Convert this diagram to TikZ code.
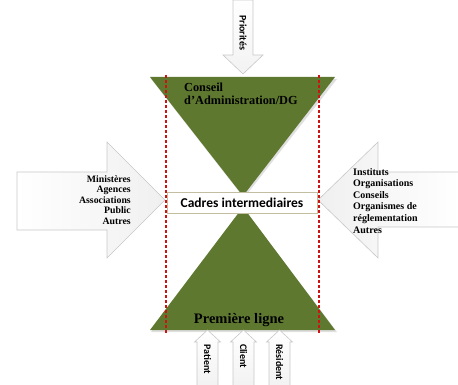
\documentclass[tikz,border=0pt]{standalone}
\usepackage{fontspec}
\setmainfont{Liberation Serif}
\newfontfamily\calib{Carlito}
\definecolor{olive1}{RGB}{94,120,48}
\definecolor{arrline}{RGB}{200,200,200}
\definecolor{boxline}{RGB}{196,190,160}
\definecolor{reddash}{RGB}{204,20,20}
\tikzset{
  arrowshape/.style={left color=white, right color=gray!12, draw=arrline, line width=0.6pt},
  tri/.style={fill=olive1, draw=none},
  reddline/.style={draw=reddash, dashed, line width=1.3pt, dash pattern=on 3pt off 2pt},
  vlabel/.style={font=\calib\bfseries\fontsize{10}{10}\selectfont, rotate=-90, anchor=west, inner sep=0pt},
  sidelabel/.style={font=\bfseries\fontsize{9.8}{10.6}\selectfont, inner sep=0pt}
}
\begin{document}
\begin{tikzpicture}[x=1pt,y=-1pt]
\useasboundingbox (0,0) rectangle (458,385);
% top arrow
\draw[arrowshape, top color=white, bottom color=gray!10] (233,0)--(253,0)--(253,55)--(263,55)--(243,74)--(223,55)--(233,55)--cycle;
\node[vlabel] (prio) at (243,15) {Priorités};
% left arrow
\draw[arrowshape] (17,172)--(107,172)--(107,142)--(165,200)--(107,258)--(107,230)--(17,230)--cycle;
\node[sidelabel, align=right, anchor=north east] (left) at (131,175) {Ministères\\Agences\\Associations\\Public\\Autres};
% right arrow
\draw[arrowshape, left color=gray!12, right color=white] (460,172)--(378,172)--(378,142)--(318,200)--(378,258)--(378,227)--(460,227)--cycle;
\node[sidelabel, align=left, anchor=north west, font=\bfseries\fontsize{10}{11.6}\selectfont] (right) at (353,168) {Instituts\\Organisations\\Conseils\\Organismes de\\réglementation\\Autres};
% triangles
\fill[gray!25] (151,79)--(337,79)--(244,198)--cycle;
\fill[tri] (150,77)--(335,77)--(243,196)--cycle;
\fill[gray!25] (244,209)--(337,332)--(151,332)--cycle;
\fill[tri] (243,207)--(335,330)--(150,330)--cycle;
% middle box
\node[draw=boxline, fill=white, line width=0.8pt, minimum width=150pt, minimum height=21pt, inner sep=0pt,
  font=\calib\bfseries\fontsize{13.5}{14}\selectfont] (cadres) at (242,202.5) {Cadres intermediaires};
% labels in triangles
\node[font=\bfseries\fontsize{12.3}{12.5}\selectfont, align=left, anchor=north west, inner sep=0pt] (conseil) at (184,83) {Conseil\\d'Administration/DG};
\node[font=\bfseries\fontsize{14.5}{15}\selectfont, inner sep=0pt] (premiere) at (239,320) {Première ligne};
% bottom arrows
\foreach \cx/\nm/\txt in {207.5/pat/Patient, 243.5/cli/Client, 279.5/res/Résident}{
  \draw[arrowshape, top color=white, bottom color=gray!10] (\cx-10.5,386)--(\cx-10.5,342)--(\cx-13,342)--(\cx,330)--(\cx+13,342)--(\cx+10.5,342)--(\cx+10.5,386)--cycle;
  \node[vlabel] (\nm) at (\cx,344) {\txt};
}
% red dashed lines
\draw[reddline] (166,75)--(166,333);
\draw[reddline] (319,75)--(319,333);
\end{tikzpicture}
\end{document}
